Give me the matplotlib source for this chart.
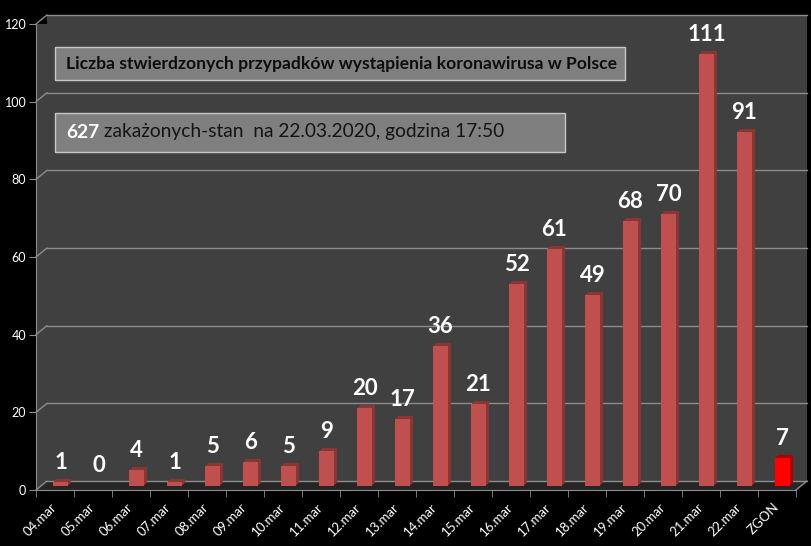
import matplotlib
matplotlib.use('Agg')
import matplotlib.pyplot as plt
import matplotlib.patheffects as pe
from matplotlib.patches import Rectangle
from matplotlib.text import Annotation
from matplotlib.transforms import Affine2D, ScaledTranslation
import numpy as np

#Data
days = ['04.mar', '05.mar', '06.mar', '07.mar', '08.mar', '09.mar', '10.mar',
        '11.mar', '12.mar', '13.mar', '14.mar', '15.mar', '16.mar', '17.mar',
        '18.mar', '19.mar', '20.mar', '21.mar', '22.mar', 'ZGON']
cases = [1, 0, 4, 1, 5, 6, 5, 9, 20, 17, 36, 21, 52, 61, 49, 68, 70, 111, 91, 7]
yticks = [0, 20, 40, 60, 80, 100, 120]
title_txt = 'Liczba stwierdzonych przypadków wystąpienia koronawirusa w Polsce'
total_txt = '627'
status_txt = ' zakażonych-stan  na 22.03.2020, godzina 17:50'

#Colours
front_cols = ['#C0504D'] * (len(days) - 1) + ['#FF0000']
side_cols = ['#8A3634'] * (len(days) - 1) + ['#B00000']
WALL = '#404040'
FLOOR = '#262626'
GRID = '#8C8C8C'

plt.rcParams['font.family'] = ['Lato', 'DejaVu Sans']

#Layout in pixels
W, H, DPI = 811, 546, 100
AX_L, AX_R, AX_T, AX_B = 36, 796, 24, 490
AX_W, AX_H = AX_R - AX_L, AX_B - AX_T
DX, DY = 11, 9  #depth of the 3D box in px
PT = 72 / DPI   #px -> points

fig = plt.figure(figsize=(W / DPI, H / DPI), dpi=DPI, facecolor='black')
ax = fig.add_axes([AX_L / W, 1 - AX_B / H, AX_W / W, AX_H / H])
ax.set_facecolor(WALL)
ax.set_xlim(-0.5, len(days) - 0.5)
ax.set_ylim(0, 120)

back = ScaledTranslation(DX / DPI, DY / DPI, fig.dpi_scale_trans)
mid = ScaledTranslation(DX / 2 / DPI, DY / 2 / DPI, fig.dpi_scale_trans)

#Back wall and floor
ax.add_patch(Rectangle((0, 0), 1, 1, transform=ax.transAxes + back,
                       fc=WALL, ec='none', zorder=0.2, clip_on=False))
shear = Affine2D(np.array([[1, DX / AX_W, 0], [0, DY / AX_H, 0], [0, 0, 1]])) + ax.transAxes
ax.add_patch(Rectangle((0, 0), 1, 1, transform=shear, fc=FLOOR, ec='none',
                       zorder=0.3, clip_on=False))

#Gridlines on the back wall with the diagonal to the front axis
for yt in yticks:
    ax.plot([0, 1], [yt, yt], transform=ax.get_yaxis_transform() + back,
            color=GRID, lw=1, zorder=0.5, clip_on=False)
    ax.annotate('', xy=(0, yt), xycoords=ax.get_yaxis_transform(),
                xytext=(DX * PT, DY * PT), textcoords='offset points',
                arrowprops=dict(arrowstyle='-', color=GRID, lw=1, shrinkA=0, shrinkB=0),
                zorder=0.5)
ax.annotate('', xy=(1, 0), xycoords='axes fraction',
            xytext=(DX * PT, DY * PT), textcoords='offset points',
            arrowprops=dict(arrowstyle='-', color=GRID, lw=1, shrinkA=0, shrinkB=0))

#Bars with a small extrusion
x = np.arange(len(days))
bars = ax.bar(x, cases, width=0.39, color=front_cols, zorder=3)
for b, sc in zip(bars, side_cols):
    b.set_transform(ax.transData + mid)
    b.set_clip_on(False)
    b.set_path_effects([pe.SimplePatchShadow(offset=(k * PT, k * PT), shadow_rgbFace=sc, alpha=1)
                        for k in (3, 2, 1)] + [pe.Normal()])

#Value labels
for i, v in enumerate(cases):
    ax.annotate(str(v), xy=(i, v), xytext=(DX / 2 * PT, (DY / 2 + 9) * PT),
                textcoords='offset points', ha='center', va='bottom',
                color='white', fontsize=16, fontweight='bold', zorder=4)

#Axes styling
for s in ['top', 'right']:
    ax.spines[s].set_visible(False)
for s in ['left', 'bottom']:
    ax.spines[s].set_color(GRID)
ax.set_yticks(yticks)
ax.tick_params(axis='y', colors=GRID, labelcolor='white', labelsize=9, length=5, pad=2)
ax.set_xticks(x)
ax.set_xticklabels(days, rotation=45, ha='right', va='center', rotation_mode='anchor',
                   color='white', fontsize=9.5)
ax.tick_params(axis='x', which='major', length=0, pad=11)
ax.set_xticks(np.arange(-0.5, len(days), 1), minor=True)
ax.tick_params(axis='x', which='minor', length=5, color=GRID)

#Text boxes
def add_box(x0, y0, x1, y1):
    fig.add_artist(Rectangle((x0 / W, 1 - y1 / H), (x1 - x0) / W, (y1 - y0) / H,
                             transform=fig.transFigure, fc='#7F7F7F', ec='#C8C8C8',
                             lw=1, zorder=2))

add_box(55, 47, 625, 80)
fig.text(66 / W, 1 - 64 / H, title_txt, ha='left', va='center', fontsize=12.6,
         fontweight='bold', color='#0D0D0D', zorder=3)

add_box(55, 113, 565, 152)
t627 = fig.text(66 / W, 1 - 132 / H, total_txt, ha='left', va='center', fontsize=13.8,
                fontweight='bold', color='white', zorder=3)
fig.add_artist(Annotation(status_txt, xy=(1, 0), xycoords=t627, ha='left', va='bottom',
                          fontsize=13.8, color='#141414', zorder=3))

fig.savefig('out.png', dpi=DPI, facecolor='black')
